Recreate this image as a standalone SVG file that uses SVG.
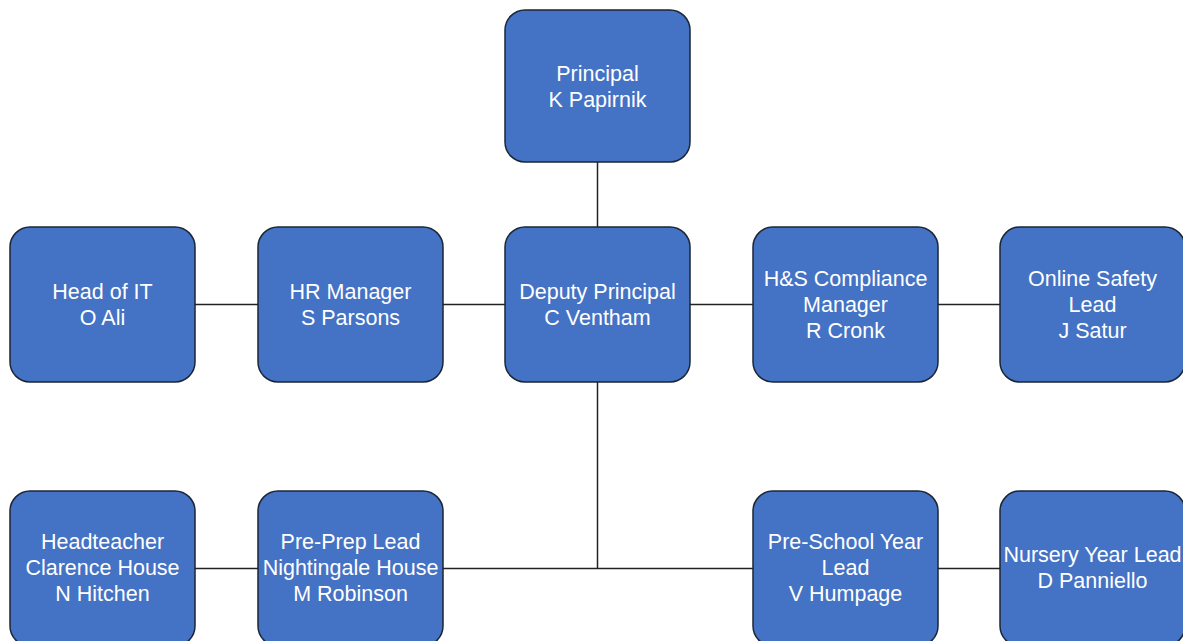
<svg xmlns="http://www.w3.org/2000/svg" width="1183" height="641" viewBox="0 0 1183 641">
<style>
.box{fill:#4472C4;stroke:#1b2636;stroke-width:1.5}
.t{font-family:"Liberation Sans",Arial,sans-serif;font-size:21.5px;fill:#ffffff;text-anchor:middle}
.c{stroke:#222;stroke-width:1.5;fill:none}
</style>
<rect width="1183" height="641" fill="#ffffff"/>
<g id="connectors">
<path class="c" d="M597.5 162V227"/>
<path class="c" d="M195 304.5H258"/>
<path class="c" d="M443 304.5H505"/>
<path class="c" d="M690 304.5H753"/>
<path class="c" d="M938 304.5H1000"/>
<path class="c" d="M597.5 382V568.5"/>
<path class="c" d="M443 568.5H753"/>
<path class="c" d="M195 568.5H258"/>
<path class="c" d="M938 568.5H1000"/>
</g>
<g id="principal"><rect class="box" x="505" y="10" width="185" height="152" rx="20"/>
<text class="t" x="597.5" y="81">Principal</text><text class="t" x="597.5" y="107">K Papirnik</text></g>
<g id="head-it"><rect class="box" x="10" y="227" width="185" height="155" rx="20"/>
<text class="t" x="102.5" y="299">Head of IT</text><text class="t" x="102.5" y="325">O Ali</text></g>
<g id="hr"><rect class="box" x="258" y="227" width="185" height="155" rx="20"/>
<text class="t" x="350.5" y="299">HR Manager</text><text class="t" x="350.5" y="325">S Parsons</text></g>
<g id="deputy"><rect class="box" x="505" y="227" width="185" height="155" rx="20"/>
<text class="t" x="597.5" y="299">Deputy Principal</text><text class="t" x="597.5" y="325">C Ventham</text></g>
<g id="hs"><rect class="box" x="753" y="227" width="185" height="155" rx="20"/>
<text class="t" x="845.5" y="286">H&amp;S Compliance</text><text class="t" x="845.5" y="312">Manager</text><text class="t" x="845.5" y="338">R Cronk</text></g>
<g id="online"><rect class="box" x="1000" y="227" width="185" height="155" rx="20"/>
<text class="t" x="1092.5" y="286">Online Safety</text><text class="t" x="1092.5" y="312">Lead</text><text class="t" x="1092.5" y="338">J Satur</text></g>
<g id="headteacher"><rect class="box" x="10" y="491" width="185" height="155" rx="20"/>
<text class="t" x="102.5" y="549">Headteacher</text><text class="t" x="102.5" y="575">Clarence House</text><text class="t" x="102.5" y="601">N Hitchen</text></g>
<g id="preprep"><rect class="box" x="258" y="491" width="185" height="155" rx="20"/>
<text class="t" x="350.5" y="549">Pre-Prep Lead</text><text class="t" x="350.5" y="575">Nightingale House</text><text class="t" x="350.5" y="601">M Robinson</text></g>
<g id="preschool"><rect class="box" x="753" y="491" width="185" height="155" rx="20"/>
<text class="t" x="845.5" y="549">Pre-School Year</text><text class="t" x="845.5" y="575">Lead</text><text class="t" x="845.5" y="601">V Humpage</text></g>
<g id="nursery"><rect class="box" x="1000" y="491" width="185" height="155" rx="20"/>
<text class="t" x="1092.5" y="562">Nursery Year Lead</text><text class="t" x="1092.5" y="588">D Panniello</text></g>
</svg>
